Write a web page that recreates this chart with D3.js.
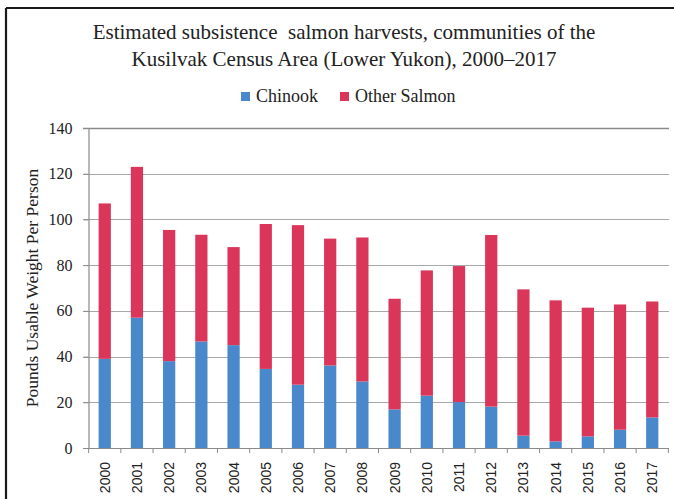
<!DOCTYPE html>
<html>
<head>
<meta charset="utf-8">
<script src="https://cdn.jsdelivr.net/npm/d3@7"></script>
<style>
  html, body { margin: 0; padding: 0; background: #ffffff; }
  svg { display: block; }
</style>
</head>
<body>
<svg id="chart" width="674" height="499"></svg>
<script>
const years = ["2000","2001","2002","2003","2004","2005","2006","2007","2008","2009","2010","2011","2012","2013","2014","2015","2016","2017"];
const chinook = [39, 57, 38, 46.6, 45, 34.6, 27.7, 36.1, 29.1, 16.9, 22.9, 20.1, 18.1, 5.4, 2.9, 5.1, 8, 13.4];
const otherSalmon = [68, 66, 57.4, 46.7, 42.9, 63.4, 69.8, 55.5, 63, 48.4, 54.8, 59.5, 75.1, 64, 61.7, 56.3, 54.8, 50.7];
const yTicks = [0, 20, 40, 60, 80, 100, 120, 140];
const seriesNames = ["Chinook", "Other Salmon"];
const seriesColors = ["#4a88cc", "#d9365a"];
const titleLines = ["Estimated subsistence\u00a0 salmon harvests, communities of the", "Kusilvak Census Area (Lower Yukon), 2000\u20132017"];
const yLabel = "Pounds Usable Weight Per Person";

const svg = d3.select("#chart");
const W = 674, H = 499;
const margin = {left: 88, right: 5, top: 128, bottom: 51};
const serif = "'Liberation Serif', 'Times New Roman', serif";
const sans = "'Liberation Sans', Arial, sans-serif";

// frame
svg.append("line").attr("x1", 6).attr("x2", W).attr("y1", 8).attr("y2", 8)
  .attr("stroke", "#1a1a1a").attr("stroke-width", 2.2);
svg.append("line").attr("x1", 6).attr("x2", 6).attr("y1", 8).attr("y2", H)
  .attr("stroke", "#1a1a1a").attr("stroke-width", 2.2);

const x = d3.scaleBand().domain(years).range([margin.left, W - margin.right]).paddingInner(0.62).paddingOuter(0.33);
const y = d3.scaleLinear().domain([0, 140]).range([H - margin.bottom, margin.top]);

// gridlines
svg.append("g").selectAll("line").data(yTicks.filter(d => d > 0)).join("line")
  .attr("x1", margin.left - 5).attr("x2", W - margin.right)
  .attr("y1", d => Math.round(y(d)) + 0.5).attr("y2", d => Math.round(y(d)) + 0.5)
  .attr("stroke", d => d === 140 ? "#8a8a8a" : "#a8a8a8").attr("stroke-width", d => d === 140 ? 1.4 : 1);

// stacked data
const rows = years.map((yr, i) => ({year: yr, Chinook: chinook[i], "Other Salmon": otherSalmon[i]}));
const stack = d3.stack().keys(seriesNames)(rows);

svg.append("g").selectAll("g").data(stack).join("g")
  .attr("fill", (d, i) => seriesColors[i])
  .selectAll("rect").data(d => d).join("rect")
  .attr("x", d => x(d.data.year))
  .attr("width", x.bandwidth())
  .attr("y", d => y(d[1]))
  .attr("height", d => y(d[0]) - y(d[1]));

// y axis
const yAxis = d3.axisLeft(y).tickValues(yTicks).tickSize(5).tickPadding(11);
const gy = svg.append("g").attr("transform", `translate(${margin.left + 0.5},0)`).call(yAxis);
gy.select(".domain").attr("stroke", "#8a8a8a").attr("stroke-width", 1.2);
gy.selectAll(".tick line").attr("stroke", "#8a8a8a");
gy.selectAll(".tick text").attr("font-family", serif).attr("font-size", 16).attr("fill", "#222");

// x axis with ticks between categories
const xAxisY = y(0);
svg.append("line").attr("x1", margin.left - 5).attr("x2", W - margin.right)
  .attr("y1", xAxisY + 0.5).attr("y2", xAxisY + 0.5).attr("stroke", "#8a8a8a").attr("stroke-width", 1.2);
const step = x.step();
const boundaries = years.map(yr => x(yr) - x.paddingInner() * step / 2);
boundaries.push(x(years[years.length - 1]) + x.bandwidth() + x.paddingInner() * step / 2);
svg.append("g").selectAll("line").data(boundaries).join("line")
  .attr("x1", d => d).attr("x2", d => d)
  .attr("y1", xAxisY).attr("y2", xAxisY + 5)
  .attr("stroke", "#8a8a8a");

svg.append("g").selectAll("text").data(years).join("text")
  .attr("transform", d => `translate(${x(d) + x.bandwidth() / 2 + 5},${xAxisY + 14}) rotate(-90)`)
  .attr("text-anchor", "end")
  .attr("font-family", sans).attr("font-size", 14).attr("fill", "#222")
  .text(d => d);

// y label
svg.append("text")
  .attr("transform", `translate(38,${(y(0) + y(140)) / 2}) rotate(-90)`)
  .attr("text-anchor", "middle")
  .attr("font-family", serif).attr("font-size", 17.5).attr("fill", "#222")
  .text(yLabel);

// title
svg.append("g").selectAll("text").data(titleLines).join("text")
  .attr("x", 344).attr("y", (d, i) => 39 + i * 27)
  .attr("text-anchor", "middle")
  .attr("font-family", serif).attr("font-size", 21).attr("fill", "#222")
  .text(d => d);

// legend
const legendX = [241, 340];
const lg = svg.append("g").selectAll("g").data(seriesNames).join("g")
  .attr("transform", (d, i) => `translate(${legendX[i]},92)`);
lg.append("rect").attr("width", 9).attr("height", 9).attr("fill", (d, i) => seriesColors[i]);
lg.append("text").attr("x", 15).attr("y", 10).attr("font-family", serif).attr("font-size", 18).attr("fill", "#222").text(d => d);
</script>
</body>
</html>
